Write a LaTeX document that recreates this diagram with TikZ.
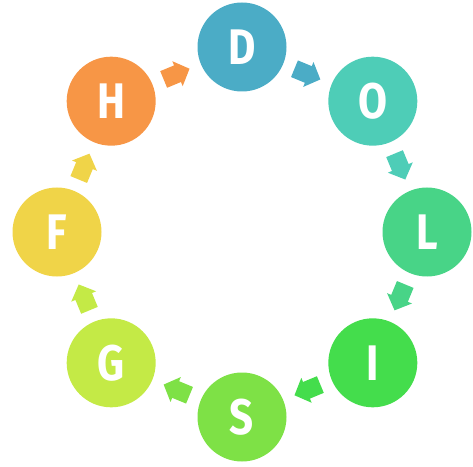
\documentclass[tikz,border=0pt]{standalone}
\usepackage{fontspec}
\setmainfont{Fira Sans}
\newfontfamily\letterfont[FakeStretch=0.84]{Fira Sans}
\usetikzlibrary{calc}
\definecolor{colD}{RGB}{75,172,198}
\definecolor{colO}{RGB}{78,205,183}
\definecolor{colL}{RGB}{72,212,135}
\definecolor{colI}{RGB}{68,221,76}
\definecolor{colS}{RGB}{126,225,70}
\definecolor{colG}{RGB}{196,234,70}
\definecolor{colF}{RGB}{240,212,72}
\definecolor{colH}{RGB}{247,150,70}
\tikzset{
  letter/.style={circle, minimum size=89pt, inner sep=0pt, text=white,
    font=\letterfont\bfseries\fontsize{50}{50}\selectfont},
  blockarrow/.pic={
    \fill (-14,-9) -- (1,-9) -- (1,-13.5) -- (14,0) -- (1,13.5) -- (1,9) -- (-14,9) -- cycle;
  }
}
\begin{document}
\begin{tikzpicture}[x=1pt,y=1pt]
\useasboundingbox (0,0) rectangle (473,466);
\coordinate (ctr) at (242,234);
% circles
\foreach \l/\c [count=\i] in {D/colD,O/colO,L/colL,I/colI,S/colS,G/colG,F/colF,H/colH}{
  \node[letter, fill=\c] (n\i) at ($(ctr)+({90-45*(\i-1)}:185)$) {\l};
}
% arrows
\foreach \i/\j/\c in {1/2/colD,2/3/colO,3/4/colL,4/5/colI,5/6/colS,6/7/colG,7/8/colF,8/1/colH}{
  \pic[fill=\c, rotate={90-45*(\i-1)-22.5-90}] (a\i) at ($(n\i)!0.5!(n\j)$) {blockarrow};
}
\end{tikzpicture}
\end{document}
